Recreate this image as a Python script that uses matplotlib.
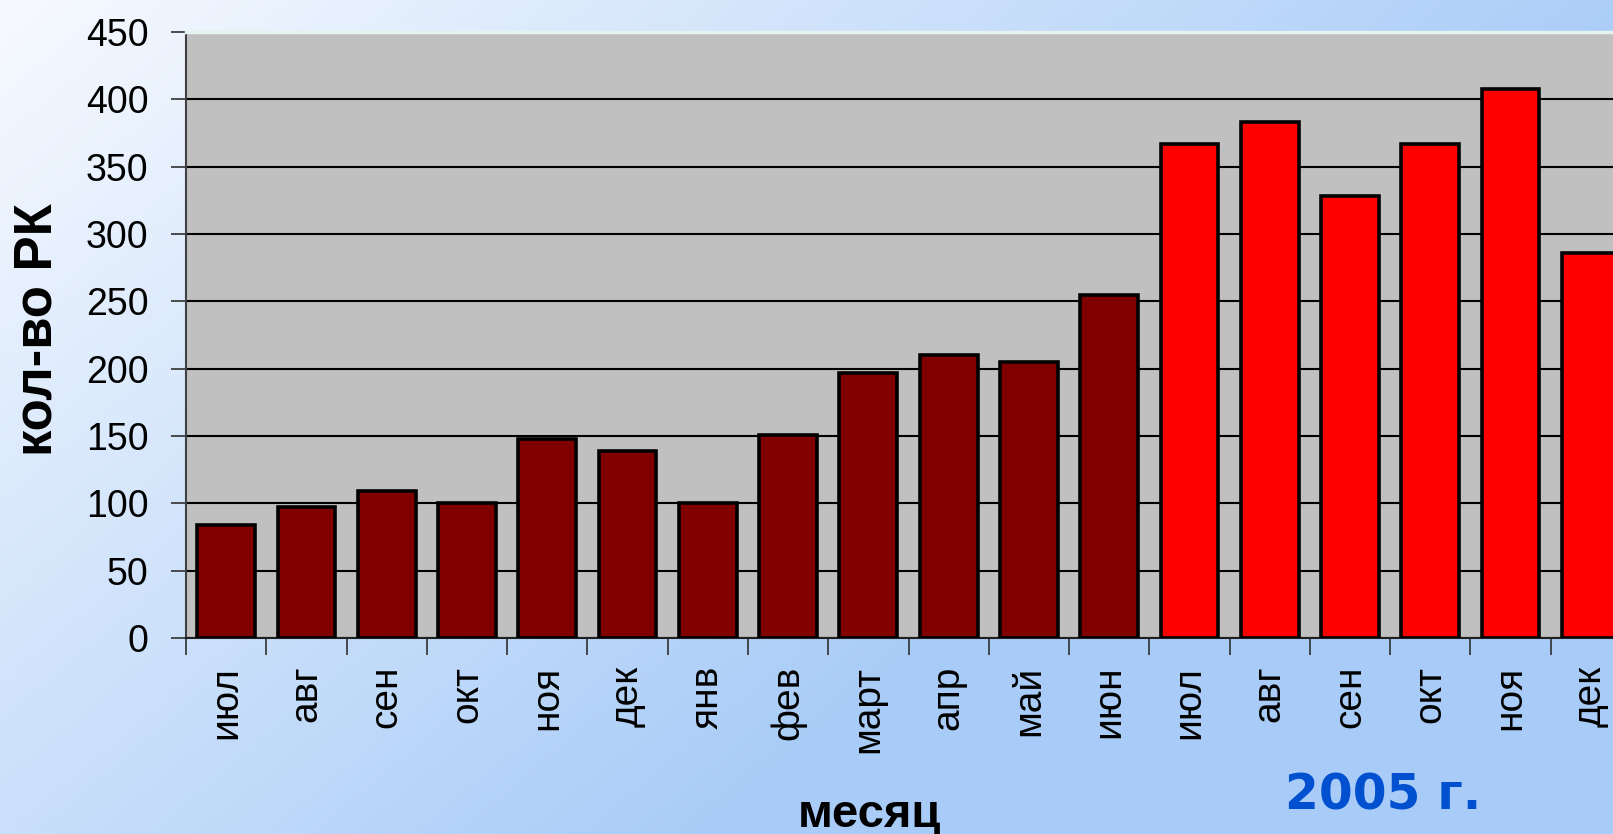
import numpy as np
import matplotlib
matplotlib.use('Agg')
import matplotlib.pyplot as plt

plt.rcParams['font.family'] = ['Liberation Sans', 'DejaVu Sans']

months = ['июл', 'авг', 'сен', 'окт', 'ноя', 'дек', 'янв', 'фев', 'март',
          'апр', 'май', 'июн', 'июл', 'авг', 'сен', 'окт', 'ноя', 'дек']
counts = [84, 97, 109, 100, 148, 139, 100, 151, 197,
          210, 205, 255, 367, 383, 328, 367, 408, 286]
n_old = 12  # первые 12 месяцев - тёмные столбцы
colors = ['#800000'] * n_old + ['#FF0000'] * (len(months) - n_old)

fig = plt.figure(figsize=(16.13, 8.34), dpi=100)

# фон - градиент от белого (слева сверху) к голубому
bg = fig.add_axes([0, 0, 1, 1], zorder=0)
xx, yy = np.meshgrid(np.linspace(0, 1, 400), np.linspace(0, 1, 200))
t = np.clip(0.95 * xx + 0.58 * yy, 0, 1)[..., None]
white = np.array([0.97, 0.98, 1.0])
blue = np.array([0.66, 0.80, 0.97])
bg.imshow(white * (1 - t) + blue * t, aspect='auto', extent=[0, 1, 1, 0])
bg.axis('off')

left, bottom = 186 / 1613, (834 - 638) / 834
ax = fig.add_axes([left, bottom, 1445 / 1613, 606 / 834], zorder=1)
ax.set_facecolor('#C0C0C0')

x = np.arange(len(months))
ax.bar(x, counts, width=0.72, color=colors, edgecolor='black', linewidth=2.6, zorder=3)

ax.set_xlim(-0.5, len(months) - 0.5)
ax.set_ylim(0, 450)
ax.set_yticks(np.arange(0, 451, 50))
ax.yaxis.grid(True, color='black', linewidth=1.5, zorder=1)
ax.set_axisbelow(True)

ax.set_xticks(x)
ax.set_xticklabels(months, rotation=90, fontsize=28, va='top')
ax.set_xticks(np.arange(-0.5, len(months), 1), minor=True)
ax.tick_params(axis='x', which='major', length=0, pad=20)
ax.tick_params(axis='x', which='minor', length=12, width=1.2, color='#303030')
ax.tick_params(axis='y', length=11, width=1.2, color='#303030', labelsize=27, pad=16)

ax.spines['left'].set_color('#404040')
ax.spines['left'].set_linewidth(1.5)
ax.spines['bottom'].set_color('#202020')
ax.spines['bottom'].set_linewidth(1.5)
ax.spines['top'].set_color('#E4F2F0')
ax.spines['top'].set_linewidth(2.5)
ax.spines['right'].set_visible(False)

fig.text(38 / 1613, 1 - 330 / 834, 'кол-во РК', rotation=90, fontsize=38,
         fontweight='bold', ha='center', va='center')
fig.text(869 / 1613, 1 - 815 / 834, 'месяц', fontsize=34, fontweight='bold',
         ha='center', va='center')
fig.text(1383 / 1613, 1 - 796 / 834, '2005 г.', fontsize=35, fontweight='bold',
         color='#0050D0', family='DejaVu Sans', ha='center', va='center')

fig.savefig('out.png', dpi=100)
